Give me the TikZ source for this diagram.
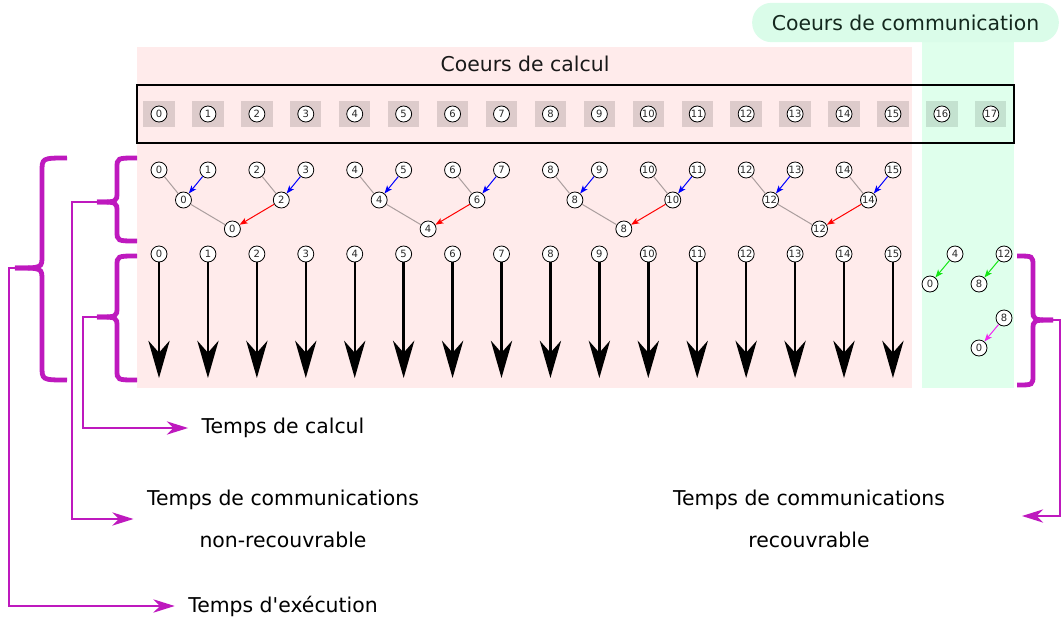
\documentclass[tikz,border=0pt]{standalone}
\usepackage{fontspec}
\setmainfont{DejaVu Sans}[Ligatures=TeXOff]
\usetikzlibrary{arrows.meta}
\definecolor{pinkbg}{RGB}{255,235,235}
\definecolor{pinkbox}{RGB}{221,203,203}
\definecolor{greenbg}{RGB}{223,255,236}
\definecolor{greenbox}{RGB}{196,226,208}
\definecolor{pillc}{RGB}{218,252,233}
\definecolor{pilltext}{RGB}{20,40,30}
\definecolor{magc}{RGB}{190,25,190}
\definecolor{treegray}{RGB}{170,158,158}
\definecolor{grn}{RGB}{20,230,20}
\definecolor{mgl}{RGB}{240,40,240}
\definecolor{numc}{RGB}{40,40,40}
\begin{document}
\begin{tikzpicture}[x=0.75pt,y=-0.75pt,
  core/.style={circle,draw=black,line width=0.6pt,fill=white,minimum size=12pt,inner sep=0pt,
    font=\fontsize{7.5}{8}\selectfont,text=numc},
  pbox/.style={rectangle,fill=pinkbox,minimum width=23.5pt,minimum height=20pt,inner sep=0pt},
  gbox/.style={rectangle,fill=greenbox,minimum width=23.5pt,minimum height=20pt,inner sep=0pt},
  gl/.style={draw=treegray,line width=0.75pt},
  smallarr/.style={line width=0.75pt,-{Stealth[length=6pt,width=4.5pt,inset=1.5pt]}},
  bigarr/.style={line width=1.8pt,-{Stealth[length=28pt,width=16pt,inset=9pt]}},
  brc/.style={draw=magc,line width=3.6pt},
  conn/.style={draw=magc,line width=1pt,-{Stealth[length=16pt,width=10pt,inset=5pt]}},
  lbl/.style={font=\fontsize{15.3}{31.5}\selectfont,inner ysep=0pt,inner xsep=10pt,align=center}
]
\useasboundingbox (0,0) rectangle (1061,618);
% backgrounds
\fill[pinkbg] (137,47) rectangle (912,388);
\fill[greenbg] (922,40) rectangle (1014,388);
\node[fill=pillc,rounded corners=14.5pt,minimum width=230pt,minimum height=29.5pt,inner sep=0pt,
  font=\fontsize{15.3}{18}\selectfont,text=pilltext] (pill) at (905.5,22.5) {Coeurs de communication};
\node[font=\fontsize{15.3}{18}\selectfont,text=black!90] (calc) at (525,64) {Coeurs de calcul};
\draw[line width=1.9pt] (137,85) rectangle (1014,143);
% core boxes
\foreach \i in {0,...,15}{
  \pgfmathsetmacro\xx{159+\i*48.93}
  \node[pbox] (b\i) at (\xx,114) {};
  \node[core] (c\i) at (b\i) {\i};
}
\foreach \i in {16,17}{
  \pgfmathsetmacro\xx{159+\i*48.93}
  \node[gbox] (b\i) at (\xx,114) {};
  \node[core] (c\i) at (b\i) {\i};
}
% tree leaves
\foreach \i in {0,...,15}{
  \pgfmathsetmacro\xx{159+\i*48.93}
  \node[core] (l\i) at (\xx,170) {\i};
}
\foreach \i in {0,2,...,14}{
  \pgfmathtruncatemacro\j{\i+1}
  \pgfmathsetmacro\xm{159+(\i+0.5)*48.93}
  \node[core] (m\i) at (\xm,200) {\i};
  \draw[gl] (l\i) -- (m\i);
  \draw[smallarr,blue] (l\j) -- (m\i);
}
\foreach \i in {0,4,8,12}{
  \pgfmathtruncatemacro\k{\i+2}
  \pgfmathsetmacro\xn{159+(\i+1.5)*48.93}
  \node[core] (n\i) at (\xn,229) {\i};
  \draw[gl] (m\i) -- (n\i);
  \draw[smallarr,red] (m\k) -- (n\i);
}
% computation arrows
\foreach \i in {0,...,15}{
  \pgfmathsetmacro\xx{159+\i*48.93}
  \node[core] (r\i) at (\xx,254) {\i};
  \coordinate (e\i) at (\xx,378);
  \draw[bigarr] (r\i) -- (e\i);
}
% communication cores
\node[core] (g4) at (955,254) {4};
\node[core] (g0) at (930,284) {0};
\node[core] (g12) at (1004,254) {12};
\node[core] (g8) at (979,284) {8};
\node[core] (h8) at (1004,318) {8};
\node[core] (h0) at (979,348) {0};
\draw[smallarr,grn] (g4) -- (g0);
\draw[smallarr,grn] (g12) -- (g8);
\draw[smallarr,mgl] (h8) -- (h0);
% braces
\draw[brc] (67,158) .. controls (42,158) .. (42,172) -- (42,256) .. controls (42,268) .. (15,268);
\draw[brc] (15,268) .. controls (42,268) .. (42,280) -- (42,366) .. controls (42,380) .. (67,380);
\coordinate (bigtip) at (15,268);
\draw[brc] (137,158) .. controls (117,158) .. (117,168) -- (117,192) .. controls (117,202) .. (97,202);
\draw[brc] (97,202) .. controls (117,202) .. (117,212) -- (117,231) .. controls (117,241) .. (137,241);
\coordinate (uptip) at (97,202);
\draw[brc] (137,256) .. controls (117,256) .. (117,266) -- (117,307) .. controls (117,317) .. (97,317);
\draw[brc] (97,317) .. controls (117,317) .. (117,327) -- (117,370) .. controls (117,380) .. (137,380);
\coordinate (lowtip) at (97,317);
\draw[brc] (1017,256) .. controls (1033,256) .. (1033,266) -- (1033,310) .. controls (1033,320) .. (1053,320);
\draw[brc] (1053,320) .. controls (1033,320) .. (1033,330) -- (1033,375) .. controls (1033,385) .. (1017,385);
\coordinate (rtip) at (1053,320);
% labels
\node[lbl] (tcal) at (283,428) {Temps de calcul};
\node[lbl] (tnr) at (283,519) {Temps de communications\\non-recouvrable};
\node[lbl] (texec) at (283,606) {Temps d'exécution};
\node[lbl] (tr) at (809,519) {Temps de communications\\recouvrable};
\coordinate (rc) at (1022,516);
% connectors
\draw[conn] (bigtip) -- ++(-6,0) |- (texec.west);
\draw[conn] (uptip) -- ++(-25,0) |- (tnr.west);
\draw[conn] (lowtip) -- ++(-14,0) |- (tcal.west);
\draw[conn] (rtip) -- ++(7,0) |- (rc);
\end{tikzpicture}
\end{document}
